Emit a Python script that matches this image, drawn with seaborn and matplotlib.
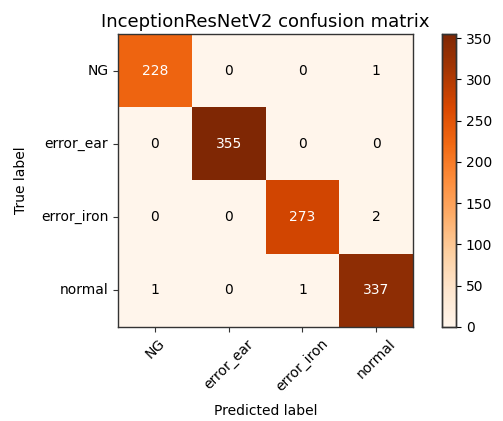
import numpy as np
import matplotlib
matplotlib.use('Agg')
import matplotlib.pyplot as plt
import seaborn as sns

# class names and confusion matrix values
classes = ['NG', 'error_ear', 'error_iron', 'normal']
row_ng = [228, 0, 0, 1]
row_ear = [0, 355, 0, 0]
row_iron = [0, 0, 273, 2]
row_normal = [1, 0, 1, 337]
cbar_ticks = [0, 50, 100, 150, 200, 250, 300, 350]

cm = np.array([row_ng, row_ear, row_iron, row_normal])

fig = plt.figure(figsize=(5.03, 4.21), dpi=100)
ax = fig.add_axes([0.2346, 0.2233, 0.5865, 0.696])
cax = fig.add_axes([0.8787, 0.2233, 0.028, 0.696])

sns.heatmap(cm, cmap='Oranges', annot=True, fmt='d', ax=ax, cbar_ax=cax,
            square=False, vmin=0, vmax=cm.max(),
            xticklabels=classes, yticklabels=classes,
            annot_kws={'fontsize': 10})

# text colour like the classic sklearn example
thresh = cm.max() / 2.0
for t, v in zip(ax.texts, cm.flatten()):
    t.set_color('white' if v > thresh else 'black')

for s in ax.spines.values():
    s.set_visible(True)
    s.set_color('#333333')
    s.set_linewidth(1.0)

ax.tick_params(axis='both', length=3.5, labelsize=10, color='#333333')
ax.set_xticklabels(classes, rotation=45, ha='center', rotation_mode='default')
ax.set_yticklabels(classes, rotation=0)
ax.set_title('InceptionResNetV2 confusion matrix', fontsize=13, pad=5)
ax.set_ylabel('True label', fontsize=10, labelpad=9)
ax.set_xlabel('Predicted label', fontsize=10, labelpad=7)

cax.set_yticks(cbar_ticks)
cax.tick_params(labelsize=10, length=3.5)
for s in cax.spines.values():
    s.set_visible(True)
    s.set_linewidth(1.0)
    s.set_color('#333333')

fig.savefig('out.png', dpi=100)
